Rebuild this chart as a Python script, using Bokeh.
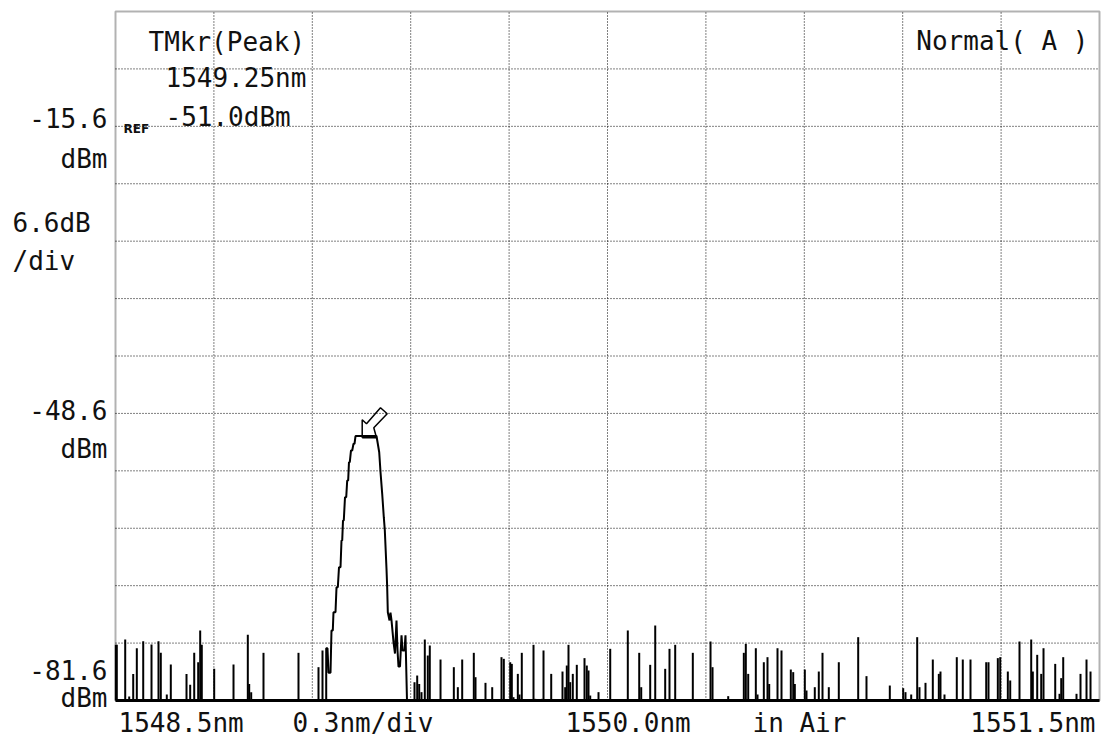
from bokeh.plotting import figure
from bokeh.models import Label, BoxAnnotation
from bokeh.embed import file_html
from bokeh.resources import INLINE

# ---------------- data ----------------
X_START, X_END = 1548.5, 1551.5          # nm (0.3 nm/div, 10 div)
Y_BOT, Y_TOP = -81.6, -2.4               # dBm (6.6 dB/div, 12 div)

x_grid = [1548.8, 1549.1, 1549.4, 1549.7, 1550.0, 1550.3, 1550.6, 1550.9, 1551.2]
y_grid = [-75.0, -68.4, -61.8, -55.2, -48.6, -42.0, -35.4, -28.8, -22.2, -15.6, -9.0]

# main peak trace
peak_nm = [1549.1424, 1549.1424, 1549.1463, 1549.1494, 1549.1555, 1549.1585, 1549.1625,
           1549.1646, 1549.1707, 1549.1738, 1549.1778, 1549.1814, 1549.1860, 1549.1890,
           1549.1912, 1549.1936, 1549.1960, 1549.1997, 1549.2034, 1549.2064, 1549.2094,
           1549.2118, 1549.2143, 1549.2180, 1549.2217, 1549.2256, 1549.2287, 1549.2317,
           1549.2957, 1549.2997, 1549.3040, 1549.3080, 1549.3131, 1549.3180, 1549.3210,
           1549.3262, 1549.3283, 1549.3302, 1549.3354, 1549.3384, 1549.3415, 1549.3476,
           1549.3521, 1549.3567, 1549.3598, 1549.3628, 1549.3674, 1549.3720, 1549.3750,
           1549.3811, 1549.3841, 1549.3887]
peak_dbm = [-81.6, -75.6, -75.6, -78.4, -78.4, -73.55, -73.55,
            -71.45, -71.45, -68.58, -68.58, -66.28, -66.28, -63.21,
            -63.21, -60.91, -60.91, -58.23, -58.23, -56.31, -56.31,
            -54.21, -54.21, -52.86, -52.86, -52.09, -52.09, -51.2,
            -51.2, -52.09, -53.06, -55.36, -57.84, -60.53, -61.98,
            -66.46, -68.58, -71.45, -72.4, -71.5, -72.4, -74.9,
            -76.2, -72.4, -75.85, -77.7, -77.7, -74.1, -75.85,
            -75.85, -74.1, -81.6]

# noise spikes above the display floor
spike_nm = [1548.501, 1548.504, 1548.5296, 1548.5418, 1548.554, 1548.565, 1548.5845, 1548.6098,
            1548.6311, 1548.6381, 1548.6564, 1548.6686, 1548.7165, 1548.7277, 1548.74, 1548.7521,
            1548.7582, 1548.7631, 1548.8009, 1548.8598, 1548.9034, 1548.9076, 1548.9137, 1548.9512,
            1549.0579,
            1549.1189, 1549.1311,
            1549.4116, 1549.4198, 1549.4259, 1549.4329, 1549.443, 1549.4521, 1549.4582, 1549.4909,
            1549.5315, 1549.5437, 1549.557, 1549.5924, 1549.5976, 1549.628, 1549.6485, 1549.6768,
            1549.6839,
            1549.7034, 1549.7083, 1549.7134, 1549.7266, 1549.7317, 1549.7387, 1549.7744, 1549.7796,
            1549.7997, 1549.8049, 1549.8284, 1549.8628, 1549.871, 1549.8759, 1549.8811, 1549.8863,
            1549.8942, 1549.9064, 1549.9299, 1549.9369, 1549.9421, 1549.9473, 1549.9726, 1550.0083,
            1550.0619, 1550.0967, 1550.1028, 1550.1302, 1550.1455, 1550.1759, 1550.189, 1550.2064,
            1550.2601,
            1550.3141, 1550.3202, 1550.368, 1550.4156, 1550.4217, 1550.429, 1550.4522, 1550.4574,
            1550.4766, 1550.4878, 1550.493, 1550.5183, 1550.5305, 1550.5589, 1550.5662, 1550.5711,
            1550.6016, 1550.6067, 1550.632, 1550.6442, 1550.6555, 1550.6747, 1550.7052, 1550.7643,
            1550.7896, 1550.8607, 1550.9015, 1550.9085,
            1550.9259, 1550.9442, 1550.9512, 1550.9695, 1550.9918, 1551.0101, 1551.0152, 1551.0274,
            1551.0649, 1551.0832, 1551.1067, 1551.1546, 1551.1616, 1551.19, 1551.1973, 1551.2205,
            1551.2278, 1551.2561, 1551.2918, 1551.2967, 1551.3101, 1551.3223, 1551.3293, 1551.365,
            1551.3781, 1551.3833, 1551.3894, 1551.4299, 1551.4421, 1551.4604, 1551.4726]
spike_dbm = [-75.2, -75.2, -74.59, -81.14, -78.54, -75.58, -74.78, -75.16,
             -74.78, -76.12, -80.91, -77.46, -78.54, -79.8, -76.12, -77.2,
             -73.55, -75.2, -77.96, -77.46, -74.05, -79.7, -80.64, -76.12,
             -76.12,
             -77.77, -75.85,
             -79.5, -78.73, -79.7, -80.64, -74.59, -76.43, -75.28, -76.89,
             -77.77, -80.07, -76.89, -76.12, -78.92, -79.57, -80.07, -76.62,
             -76.81,
             -77.2, -77.39, -81.22, -78.54, -80.91, -76.12, -75.2, -81.41,
             -81.41, -75.85, -78.54, -78.27, -80.07, -77.58, -75.2, -79.49,
             -78.54, -77.5, -76.73, -77.58, -78.15, -81.03, -80.64, -75.66,
             -73.55, -76.12, -80.07, -77.5, -72.98, -77.96, -75.66, -75.2,
             -76.12,
             -74.82, -77.77, -81.1, -76.12, -75.09, -78.54, -75.59, -80.91,
             -77.2, -76.62, -79.7, -75.59, -75.85, -78.04, -78.34, -79.7,
             -78.04, -80.45, -80.07, -78.27, -76.12, -80.07, -77.2, -74.32,
             -78.8, -79.88, -80.18, -80.64,
             -80.91, -74.32, -80.07, -79.57, -76.89, -78.54, -78.27, -80.91,
             -76.62, -76.89, -76.89, -77.2, -77.2, -76.73, -76.62, -78.27,
             -79.3, -74.82, -74.59, -78.27, -76.35, -78.54, -75.59, -77.39,
             -80.83, -79.03, -76.62, -80.83, -78.54, -76.89, -78.27]

# ---------------- geometry (canvas pixels) ----------------
W, H = 1110, 740
FL, FR, FT, FB = 115, 1099, 11, 700   # instrument screen box
SX = (X_END - X_START) / (FR - FL)
SY = (Y_TOP - Y_BOT) / (FB - FT)


def lx(px):
    return X_START + (px - FL) * SX


def ly(py):
    return Y_BOT + (FB - py) * SY


p = figure(width=W, height=H, x_range=(lx(0), lx(W)), y_range=(ly(H), ly(0)),
           x_axis_location=None, y_axis_location=None,
           toolbar_location=None, output_backend="svg", min_border=0)
p.background_fill_color = "white"
p.border_fill_color = "white"
p.outline_line_color = None
p.grid.visible = False

# dotted division grid inside the screen box
p.segment(x0=x_grid, y0=[Y_BOT] * len(x_grid), x1=x_grid, y1=[Y_TOP] * len(x_grid),
          line_color="black", line_width=1, line_dash="1 2")
p.segment(x0=[X_START] * len(y_grid), y0=y_grid, x1=[X_END] * len(y_grid), y1=y_grid,
          line_color="black", line_width=1, line_dash="1 2")

# screen frame
p.add_layout(BoxAnnotation(left=X_START, right=X_END, bottom=Y_BOT, top=Y_TOP,
                           fill_color=None, fill_alpha=0, line_color="black", line_width=2))

# trace: floor, spikes, peak
p.line([X_START, X_END], [Y_BOT, Y_BOT], line_color="black", line_width=3)
p.segment(x0=spike_nm, y0=[Y_BOT] * len(spike_nm), x1=spike_nm, y1=spike_dbm,
          line_color="black", line_width=2)
p.line(peak_nm, peak_dbm, line_color="black", line_width=2)

# peak marker (hollow arrow)
arrow_px = [361.7, 361.7, 366.0, 380.0, 386.7, 373.3, 376.0, 361.7]
arrow_py = [437.3, 419.3, 423.3, 407.3, 413.3, 427.3, 437.3, 437.3]
p.line([lx(v) for v in arrow_px], [ly(v) for v in arrow_py], line_color="black", line_width=1.5)

FONT = "DejaVu Sans Mono"
FS = "26px"


def lab(text, px, py, align="left", size=FS, font=FONT, style="normal"):
    p.add_layout(Label(x=lx(px), y=ly(py), text=text, text_align=align,
                       text_baseline="middle", text_font=font, text_font_size=size,
                       text_font_style=style, text_color="#111111"))


lab("TMkr(Peak)", 148, 41)
lab("1549.25nm", 165, 77)
lab("-51.0dBm", 165, 116)
lab("REF", 123, 128, size="12px", font="DejaVu Sans", style="bold")
lab("Normal( A )", 1088, 40, align="right")

lab("-15.6", 107, 117, align="right")
lab("dBm", 107, 158, align="right")
lab("6.6dB", 12, 222)
lab("/div", 12, 260)
lab("-48.6", 107, 409, align="right")
lab("dBm", 107, 448, align="right")
lab("-81.6", 107, 669, align="right")
lab("dBm", 107, 697, align="right")

lab("1548.5nm", 118, 722)
lab("0.3nm/div", 292, 722)
lab("1550.0nm", 565, 722)
lab("in Air", 752, 722)
lab("1551.5nm", 1095, 722, align="right")

open("out.html", "w").write(file_html(p, INLINE))
